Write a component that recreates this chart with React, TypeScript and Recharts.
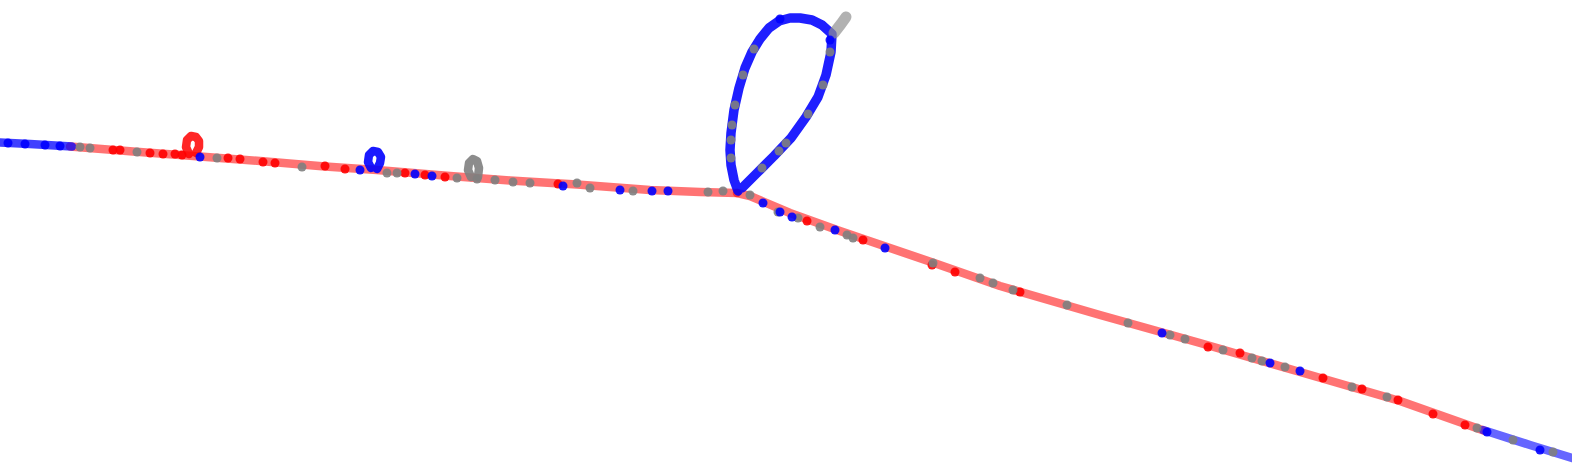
import { ScatterChart, Scatter, XAxis, YAxis } from "recharts";

type Pt = { x: number; y: number };

const W = 1572;
const H = 474;

// track segments, in picture units (x to the right, y downwards)
const blueStart: Pt[] = [
  { x: 0, y: 142.5 }, { x: 30, y: 144 }, { x: 72, y: 146.5 },
];
const redWest: Pt[] = [
  { x: 70, y: 146.5 }, { x: 133, y: 151.5 }, { x: 200, y: 156.5 }, { x: 260, y: 161 },
  { x: 325, y: 166.5 }, { x: 377, y: 170 }, { x: 450, y: 176 }, { x: 510, y: 180.5 },
  { x: 577, y: 184.5 }, { x: 650, y: 190 }, { x: 700, y: 192 }, { x: 737, y: 193 },
];
const redEast: Pt[] = [
  { x: 737, y: 193 }, { x: 750, y: 196 }, { x: 790, y: 213 }, { x: 840, y: 231 },
  { x: 890, y: 248 }, { x: 937, y: 264 }, { x: 1000, y: 286 }, { x: 1100, y: 315 },
  { x: 1200, y: 343 }, { x: 1300, y: 372 }, { x: 1400, y: 401 }, { x: 1485, y: 431 },
];
const blueEnd: Pt[] = [
  { x: 1483, y: 430 }, { x: 1530, y: 445 }, { x: 1572, y: 458 },
];
const redLoop: Pt[] = [
  { x: 189, y: 154 }, { x: 186, y: 147 }, { x: 187, y: 140 }, { x: 191, y: 136 },
  { x: 196, y: 137 }, { x: 199, y: 141 }, { x: 199, y: 147 }, { x: 196, y: 153 },
];
const blueLoop: Pt[] = [
  { x: 371, y: 168 }, { x: 368, y: 162 }, { x: 369, y: 155 }, { x: 373, y: 151 },
  { x: 378, y: 152 }, { x: 381, y: 157 }, { x: 380, y: 163 }, { x: 377, y: 169 },
];
const grayLoop: Pt[] = [
  { x: 471, y: 177 }, { x: 468, y: 170 }, { x: 469, y: 163 }, { x: 473, y: 159 },
  { x: 477, y: 161 }, { x: 479, y: 168 }, { x: 478, y: 177 },
];
const bigLoop: Pt[] = [
  { x: 738, y: 191 }, { x: 734, y: 180 }, { x: 731, y: 165 }, { x: 730, y: 150 },
  { x: 731, y: 133 }, { x: 734, y: 110 }, { x: 739, y: 88 }, { x: 745, y: 68 },
  { x: 752, y: 52 }, { x: 760, y: 39 }, { x: 769, y: 28 }, { x: 779, y: 21 },
  { x: 790, y: 18 }, { x: 800, y: 18 }, { x: 812, y: 20 }, { x: 822, y: 25 },
  { x: 832, y: 34 }, { x: 831, y: 52 }, { x: 826, y: 75 }, { x: 818, y: 97 },
  { x: 806, y: 117 }, { x: 791, y: 138 }, { x: 774, y: 156 }, { x: 757, y: 173 },
  { x: 742, y: 188 },
];
const grayTip: Pt[] = [
  { x: 834, y: 33 }, { x: 841, y: 24 }, { x: 846, y: 17 },
];

// single fixes
const redDots: Pt[] = [
  { x: 113, y: 150 }, { x: 120, y: 150 }, { x: 150, y: 153 }, { x: 163, y: 154 },
  { x: 175, y: 154 }, { x: 182, y: 155 }, { x: 228, y: 158 }, { x: 240, y: 159 },
  { x: 263, y: 162 }, { x: 275, y: 163 }, { x: 325, y: 166 }, { x: 345, y: 169 },
  { x: 405, y: 173 }, { x: 425, y: 175 }, { x: 445, y: 177 }, { x: 558, y: 184 },
  { x: 807, y: 221 }, { x: 863, y: 240 }, { x: 932, y: 265 }, { x: 955, y: 272 },
  { x: 1020, y: 292 }, { x: 1208, y: 347 }, { x: 1240, y: 353 }, { x: 1323, y: 378 },
  { x: 1362, y: 389 }, { x: 1398, y: 400 }, { x: 1433, y: 414 }, { x: 1465, y: 425 },
];
const grayDots: Pt[] = [
  { x: 80, y: 147 }, { x: 90, y: 148 }, { x: 137, y: 152 }, { x: 217, y: 158 },
  { x: 302, y: 167 }, { x: 387, y: 173 }, { x: 397, y: 173 }, { x: 457, y: 178 },
  { x: 477, y: 179 }, { x: 495, y: 180 }, { x: 513, y: 182 }, { x: 530, y: 183 },
  { x: 577, y: 183 }, { x: 590, y: 188 }, { x: 633, y: 191 }, { x: 708, y: 192 },
  { x: 723, y: 191 }, { x: 750, y: 195 }, { x: 778, y: 212 }, { x: 798, y: 218 },
  { x: 820, y: 227 }, { x: 847, y: 235 }, { x: 853, y: 238 }, { x: 933, y: 263 },
  { x: 980, y: 278 }, { x: 993, y: 283 }, { x: 1013, y: 290 }, { x: 1067, y: 305 },
  { x: 1128, y: 323 }, { x: 1170, y: 335 }, { x: 1185, y: 339 }, { x: 1223, y: 350 },
  { x: 1252, y: 358 }, { x: 1262, y: 361 }, { x: 1285, y: 367 }, { x: 1352, y: 387 },
  { x: 1387, y: 397 }, { x: 1477, y: 428 }, { x: 1513, y: 440 }, { x: 1553, y: 452 },
  { x: 731, y: 158 }, { x: 731, y: 140 }, { x: 732, y: 125 }, { x: 735, y: 105 },
  { x: 743, y: 75 }, { x: 754, y: 49 }, { x: 808, y: 114 }, { x: 786, y: 143 },
  { x: 779, y: 151 }, { x: 762, y: 168 }, { x: 823, y: 85 }, { x: 830, y: 52 },
];
const blueDots: Pt[] = [
  { x: 8, y: 143 }, { x: 25, y: 144 }, { x: 45, y: 145 }, { x: 60, y: 146 },
  { x: 200, y: 157 }, { x: 360, y: 170 }, { x: 415, y: 174 }, { x: 432, y: 176 },
  { x: 563, y: 186 }, { x: 620, y: 190 }, { x: 652, y: 191 }, { x: 668, y: 191 },
  { x: 763, y: 203 }, { x: 780, y: 212 }, { x: 792, y: 217 }, { x: 835, y: 230 },
  { x: 885, y: 248 }, { x: 1162, y: 333 }, { x: 1270, y: 363 }, { x: 1300, y: 371 },
  { x: 1487, y: 432 }, { x: 1540, y: 450 }, { x: 780, y: 19 }, { x: 830, y: 40 },
];

const trackLine = (stroke: string, opacity: number, width = 8) => ({
  stroke,
  strokeWidth: width,
  strokeOpacity: opacity,
  strokeLinecap: "round" as const,
  strokeLinejoin: "round" as const,
  fill: "none",
});

const noDot = () => <g />;

const dot = (fill: string, r = 4.5) => (p: any) => (
  <circle cx={p.cx} cy={p.cy} r={r} fill={fill} fillOpacity={0.9} />
);

const App = () => {
  return (
    <div style={{ position: "absolute", left: 0, top: 0, background: "#fff" }}>
      <ScatterChart width={W} height={H} margin={{ top: 0, right: 0, bottom: 0, left: 0 }}>
        <XAxis type="number" dataKey="x" domain={[0, W]} allowDataOverflow hide />
        <YAxis type="number" dataKey="y" domain={[0, H]} reversed allowDataOverflow hide />

        <Scatter data={redWest} line={trackLine("#ff0000", 0.55, 8.5)} shape={noDot} isAnimationActive={false} />
        <Scatter data={redEast} line={trackLine("#ff0000", 0.55, 8.5)} shape={noDot} isAnimationActive={false} />
        <Scatter data={blueStart} line={trackLine("#0000ff", 0.75, 8.5)} shape={noDot} isAnimationActive={false} />
        <Scatter data={blueEnd} line={trackLine("#0000ff", 0.6, 8.5)} shape={noDot} isAnimationActive={false} />
        <Scatter data={redLoop} line={trackLine("#ff0000", 0.85, 8.5)} shape={noDot} isAnimationActive={false} />
        <Scatter data={blueLoop} line={trackLine("#0000ff", 0.9, 8.5)} shape={noDot} isAnimationActive={false} />
        <Scatter data={grayLoop} line={trackLine("#808080", 0.9, 8.5)} shape={noDot} isAnimationActive={false} />
        <Scatter data={bigLoop} line={trackLine("#0000ff", 0.88, 9.5)} shape={noDot} isAnimationActive={false} />
        <Scatter data={grayTip} line={trackLine("#909090", 0.7, 11)} shape={noDot} isAnimationActive={false} />

        <Scatter data={redDots} shape={dot("#ff0000")} isAnimationActive={false} />
        <Scatter data={grayDots} shape={dot("#808080")} isAnimationActive={false} />
        <Scatter data={blueDots} shape={dot("#0000ff")} isAnimationActive={false} />
      </ScatterChart>
    </div>
  );
};

export default App;
